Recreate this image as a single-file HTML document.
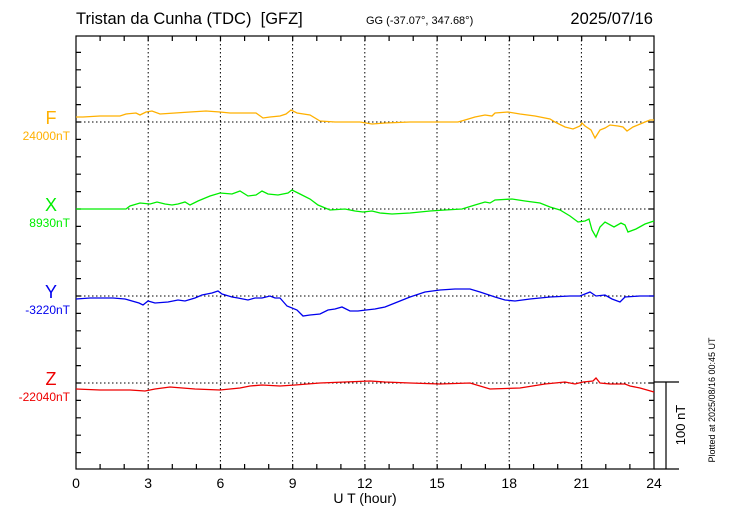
<!DOCTYPE html>
<html><head><meta charset="utf-8"><style>body{margin:0;background:#fff}svg{display:block}</style></head><body>
<svg width="730" height="520" xmlns="http://www.w3.org/2000/svg" font-family="Liberation Sans, sans-serif">
<rect width="730" height="520" fill="#fff"/>
<g stroke="#000" stroke-width="1" stroke-dasharray="1.5,2.5" fill="none">
<line x1="148.2" y1="36" x2="148.2" y2="469"/><line x1="220.4" y1="36" x2="220.4" y2="469"/><line x1="292.6" y1="36" x2="292.6" y2="469"/><line x1="364.8" y1="36" x2="364.8" y2="469"/><line x1="437" y1="36" x2="437" y2="469"/><line x1="509.2" y1="36" x2="509.2" y2="469"/><line x1="581.4" y1="36" x2="581.4" y2="469"/>
<line x1="76" y1="122" x2="654" y2="122"/><line x1="76" y1="209" x2="654" y2="209"/><line x1="76" y1="296" x2="654" y2="296"/><line x1="76" y1="383" x2="654" y2="383"/>
</g>
<path stroke="#000" stroke-width="1.2" fill="none" d="M100.1 36v5M124.2 36v5M148.2 36v5M172.3 36v5M196.4 36v5M220.5 36v5M244.6 36v5M268.7 36v5M292.7 36v5M316.8 36v5M340.9 36v5M365 36v5M389.1 36v5M413.2 36v5M437.2 36v5M461.3 36v5M485.4 36v5M509.5 36v5M533.6 36v5M557.7 36v5M581.7 36v5M605.8 36v5M629.9 36v5
M100.1 469v-5M124.2 469v-5M148.2 469v-5M172.3 469v-5M196.4 469v-5M220.5 469v-5M244.6 469v-5M268.7 469v-5M292.7 469v-5M316.8 469v-5M340.9 469v-5M365 469v-5M389.1 469v-5M413.2 469v-5M437.2 469v-5M461.3 469v-5M485.4 469v-5M509.5 469v-5M533.6 469v-5M557.7 469v-5M581.7 469v-5M605.8 469v-5M629.9 469v-5
M76 52.4h5M76 69.8h5M76 87.2h5M76 104.6h5M76 122h5M76 139.4h5M76 156.8h5M76 174.2h5M76 191.6h5M76 209h5M76 226.4h5M76 243.8h5M76 261.2h5M76 278.6h5M76 296h5M76 313.4h5M76 330.8h5M76 348.2h5M76 365.6h5M76 383h5M76 400.4h5M76 417.8h5M76 435.2h5M76 452.6h5
M654 52.4h-5M654 69.8h-5M654 87.2h-5M654 104.6h-5M654 122h-5M654 139.4h-5M654 156.8h-5M654 174.2h-5M654 191.6h-5M654 209h-5M654 226.4h-5M654 243.8h-5M654 261.2h-5M654 278.6h-5M654 296h-5M654 313.4h-5M654 330.8h-5M654 348.2h-5M654 365.6h-5M654 383h-5M654 400.4h-5M654 417.8h-5M654 435.2h-5M654 452.6h-5"/>
<rect x="76" y="36" width="578" height="433" fill="none" stroke="#000" stroke-width="1.2"/>
<line x1="654" y1="469" x2="679" y2="469" stroke="#000" stroke-width="1.2"/>
<line x1="654" y1="382" x2="679" y2="382" stroke="#000" stroke-width="1.2"/>
<line x1="666" y1="382" x2="666" y2="469" stroke="#000" stroke-width="1.2"/>
<g fill="none" stroke-width="1.3">
<polyline stroke="#ffb000" points="76,117 83,117 100,116 113,116 120,116 126,114 136,113 140,115 146,112 152,111 160,114 175,113 190,112 206,111 220,112 230,113 245,113 256,113 263,118 270,117 280,116 286,114 291,110 297,113 310,115 320,121 335,122 360,122 372,124 385,123 410,122 440,122 458,122 465,120 475,117 485,115 492,116 495,113 508,112 520,114 535,116 550,119 555,122 565,127 573,129 580,126 582,123 585,126 591,130 595,138 600,130 605,128 610,125 618,126 623,127 627,131 633,127 645,122 650,120 654,120"/>
<polyline stroke="#00ee00" points="76,209 126,209 130,206 140,203 150,204 157,202 165,204 172,205 178,204 185,202 190,205 198,201 210,196 220,193 232,194 240,191 248,196 256,195 262,191 268,194 278,195 288,193 292,190 300,194 310,199 318,205 330,210 345,209 355,211 363,212 372,211 380,213 392,214 410,213 430,211 445,210 462,209 475,205 485,202 490,203 495,200 512,199 525,201 540,203 550,207 560,210 570,216 578,222 585,221 589,219 592,230 596,237 600,227 605,222 614,227 621,223 625,225 628,232 636,229 645,224 654,221"/>
<polyline stroke="#0000ee" points="76,299 90,298 113,298 125,299 139,303 143,305 148,301 155,303 168,302 178,300 185,301 195,298 202,295 212,293 218,291 222,294 232,297 238,298 248,300 255,298 262,298 270,296 275,298 280,298 287,306 297,310 303,316 310,315 320,314 328,310 335,309 342,307 350,311 358,311 366,310 375,309 385,307 395,303 410,297 425,292 440,290 455,289 470,289 480,292 495,297 505,300 515,301 530,299 550,297 570,296 580,296 585,294 590,292 596,296 605,295 612,299 620,302 625,297 640,296 654,296"/>
<polyline stroke="#ee0000" points="76,389 100,390 130,390 145,391 155,389 170,387 195,389 220,390 240,388 250,386 262,385 280,386 295,385 320,383 345,382 370,381 385,382 410,383 440,384 470,383 490,389 520,388 545,384 565,382 575,384 583,382 593,381 596,378 600,383 610,384 625,384 630,386 640,388 654,392"/>
</g>
<text x="76" y="24" font-size="16.5">Tristan da Cunha (TDC)&#160; [GFZ]</text>
<text x="366" y="24" font-size="11">GG (-37.07°, 347.68°)</text>
<text x="653" y="24" font-size="16.5" text-anchor="end">2025/07/16</text>
<g font-size="18" text-anchor="middle"><text x="51" y="124" fill="#ffb000">F</text><text x="51" y="211" fill="#00ee00">X</text><text x="51" y="298" fill="#0000ee">Y</text><text x="51" y="385" fill="#ee0000">Z</text></g>
<g font-size="12" text-anchor="end"><text x="70" y="140" fill="#ffb000">24000nT</text><text x="70" y="227" fill="#00ee00">8930nT</text><text x="70" y="314" fill="#0000ee">-3220nT</text><text x="70" y="401" fill="#ee0000">-22040nT</text></g>
<g font-size="14" text-anchor="middle"><text x="76" y="488">0</text><text x="148.2" y="488">3</text><text x="220.4" y="488">6</text><text x="292.6" y="488">9</text><text x="364.8" y="488">12</text><text x="437" y="488">15</text><text x="509.2" y="488">18</text><text x="581.4" y="488">21</text><text x="654" y="488">24</text>
<text x="365" y="503">U T (hour)</text></g>
<text transform="translate(685,425) rotate(-90)" font-size="13" text-anchor="middle">100 nT</text>
<text transform="translate(715,400) rotate(-90)" font-size="9" text-anchor="middle">Plotted at 2025/08/16 00:45 UT</text>
</svg>
</body></html>
